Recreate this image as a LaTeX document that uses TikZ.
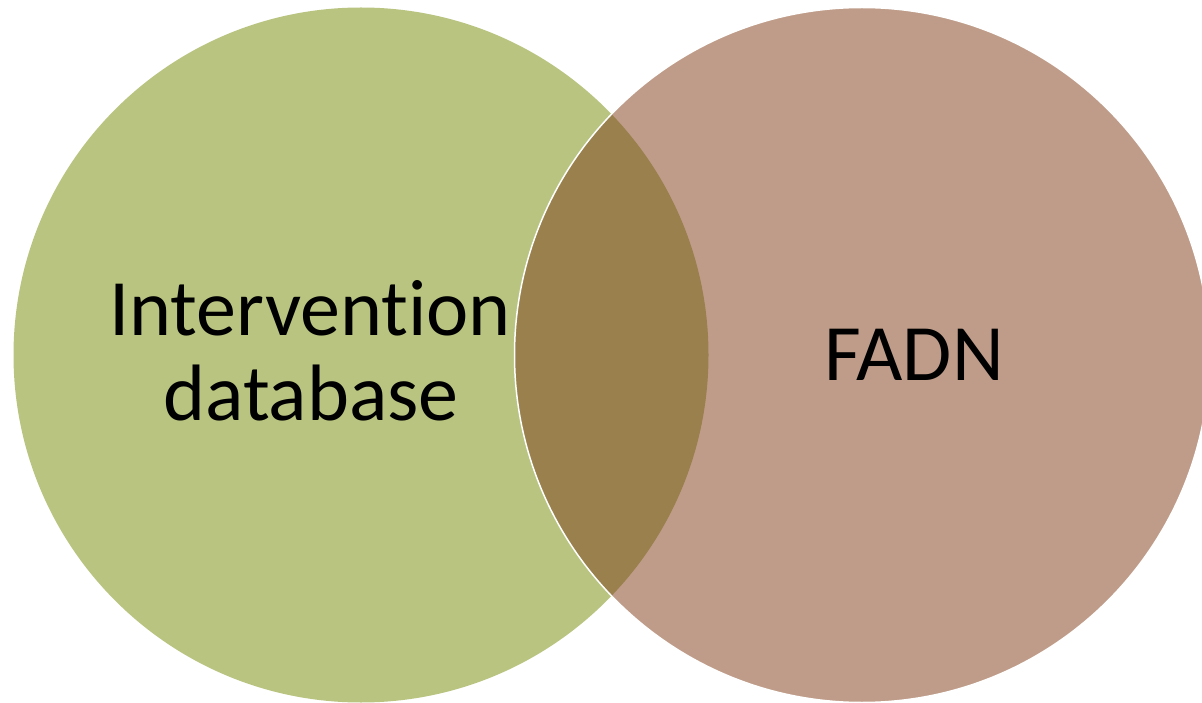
\documentclass[tikz,border=0pt]{standalone}
\usepackage{fontspec}
\setmainfont[RawFeature={-liga;-clig;-dlig;-calt}]{Carlito}
\definecolor{leftc}{HTML}{B8C480}
\definecolor{rightc}{HTML}{BF9C89}
\definecolor{overc}{HTML}{9A804C}
\tikzset{
  lbl/.style={font=\fontsize{80}{85}\selectfont, align=center, text=black, inner sep=0pt}
}
\begin{document}
\begin{tikzpicture}[x=1pt,y=-1pt]
\useasboundingbox (0,0) rectangle (1202,703);
\fill[leftc] (361,355) circle (347.5);
\fill[rightc] (862,355) circle (347.5);
\begin{scope}
\clip (361,355) circle (347.5);
\fill[overc] (862,355) circle (347.5);
\end{scope}
\draw[white, line width=1.5pt] (862,355) circle (347.5);
\node[lbl, anchor=base] (a) at (310,335) {Intervention};
\node[lbl, anchor=base] (b) at (311,420) {database};
\node[lbl, anchor=base] (c) at (914,380) {FADN};
\end{tikzpicture}
\end{document}
